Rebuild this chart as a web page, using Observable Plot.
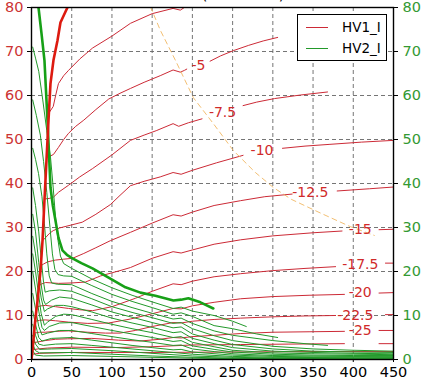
<!DOCTYPE html>
<html><head><meta charset="utf-8">
<script src="https://cdn.jsdelivr.net/npm/d3@7"></script>
<script src="https://cdn.jsdelivr.net/npm/@observablehq/plot@0.6"></script>
<style>
body{margin:0;background:#fff;}
#wrap{position:relative;width:428px;height:382px;overflow:hidden;font-family:"DejaVu Sans",sans-serif;background:#fff;}
#wrap svg{position:absolute;left:0;top:0;}
#legend{position:absolute;left:297px;top:14px;width:88px;height:45px;border:1px solid #000;background:#fff;font-size:13.5px;}
#legend .s{position:absolute;left:8px;width:22px;height:0;border-top:1px solid;}
#legend .t{position:absolute;left:44px;line-height:14px;}
</style></head><body><div id="wrap"></div>
<script>
// ---- data ----
const xTicks = [0,50,100,150,200,250,300,350,400,450];
const yTicks = [0,10,20,30,40,50,60,70,80];
const seriesNames = ["HV1_I","HV2_I"];
const titleText = "Current (arb. units)";

// HV1_I thick red line
const redThick = [[0,0],[1.2,2],[5,9.5],[7.5,13.4],[11.2,20.2],[13.7,27],[16.1,36.1],[18.6,45.2],[21.1,54.3],[23.6,62.7],[27.3,68],[32.3,72.5],[36,76.6],[44.7,80]];
// HV1_I contour lines (null = gap for label)
const r0 = [[21.5,56],[27,57.5],[30,60],[33.5,62.7],[40,64.5],[46,65.7],[60,68.3],[76,70.8],[100,73.5],[123,76.4],[150,78.6],[176,79.8],[185,79.4],[190,80],[210,81.2]];
const r1 = [[19,46],[23,46.2],[27.3,46.6],[33.5,48.2],[40,50],[46,51.4],[55,53],[65,54.4],[80,56.8],[96,59.2],[110,60.5],[123,61.6],[140,63],[160,64.5],[176,65.8],[185,65.3],[190,65.7],[193,66],null,[222,67.8],[235,69],[251,70.2],[270,71.4],[288,72.4],[306,73.2]];
const r2 = [[16.5,36.5],[22,36.6],[27.3,36.9],[33.5,38],[46,39.6],[60,41.5],[76,43.4],[100,46.5],[123,49.8],[140,51],[155,52],[176,53.6],[183,53],[195,53.8],[212,54.7],null,[263,57.7],[280,58.5],[302,59.3],[334,60.1],[368,60.8]];
const r3 = [[13.7,27],[17,27.6],[22,28.6],[27,29.3],[35,29.9],[48,30.5],[63,31.2],[80,33],[98,35.2],[110,37.3],[123,39.5],[140,40.5],[160,41.5],[176,42.5],[186,42.1],[200,43],[230,44.7],[263,46.4],null,[312,48],[340,48.5],[371,48.9],[410,49.4],[450,49.8]];
const r4 = [[11.7,21.3],[15,21.7],[20,22.2],[30,22.6],[40,22.8],[51,23],[65,24.1],[80,25.4],[98,27],[123,28.9],[150,31],[176,32.9],[186,32.6],[200,33.5],[227,35],[260,36.1],[290,37],[324,37.6],null,[380,38.3],[420,38.8],[450,39.2]];
const r5 = [[9.5,16.8],[13,17.2],[17.4,17.5],[33.5,17.3],[50,17.4],[67,17.6],[86,19],[110,20.2],[123,20.9],[150,23],[176,24.5],[186,24.2],[200,24.9],[227,26.2],[260,27.2],[300,28.1],[350,28.8],[386,29.2],null,[432,29.5],[450,29.6]];
const r6 = [[7,12],[12,12.2],[17.4,12.3],[30,12],[46,11.6],[60,11.3],[76,11.1],[100,12],[129,13.9],[150,15.5],[176,17.2],[186,17],[200,17.8],[227,18.8],[260,19.5],[300,20.2],[340,20.7],[378,21.1],null,[440,21.9],[450,21.9]];
const r7 = [[4.8,8.7],[10,8.9],[17,9],[30,8.8],[46,8.5],[70,8.2],[96,8.3],[123,9.2],[150,10.4],[176,11.6],[186,11.5],[200,12.2],[227,13],[260,13.8],[300,14.3],[345,14.6],[389,14.8],null,[432,15.1],[450,15.2]];
const r8 = [[3.3,6],[10,6.2],[17,6.2],[30,6.4],[46,6.5],[70,6.2],[92,6],[110,6],[129,6.6],[150,7.5],[176,8.4],[186,8.3],[200,8.7],[227,9.1],[260,9.4],[300,9.7],[340,9.9],[378,10],null,[440,10.2],[450,10.2]];
const r9 = [[2.2,3.8],[8,4],[17,4.3],[30,4.6],[45,4.7],[75,4.8],[108,4.4],[135,4.2],[160,4.6],[176,5],[186,4.9],[200,5.2],[227,5.5],[260,5.9],[300,6.2],[345,6.3],[389,6.4],null,[432,6.6],[450,6.6]];
const r10 = [[1.4,2.2],[8,2.4],[20,2.6],[50,2.8],[100,2.7],[150,2.9],[200,3.3],[260,3.4],[320,3.5],[389,3.6],null,[432,3.6],[450,3.6]];
const r11 = [[0.8,1.2],[10,1.4],[50,1.6],[150,1.6],[250,1.7],[350,1.8],[450,1.8]];
const contourLevels = ["-5","-7.5","-10","-12.5","-15","-17.5","-20","-22.5","-25"];
const contourLabelX = [207.5,237.5,286.6,346.6,408.7,408.7,408.7,402.5,408.7];
const contourLabelY = [66.8,56.2,47.5,38,29.5,21.6,15.2,10,6.6];

// HV2_I thick green line
const greenThick = [[8.7,80],[12.5,74],[16.1,68],[19.9,54.3],[23.6,39.1],[26.5,35],[29.8,31.6],[33.5,27.7],[38.5,24.8],[44,23.8],[50.9,23],[62,21.9],[75.8,20.7],[98,18.4],[116.8,16.4],[135.4,15.2],[154,14.5],[176.4,13.4],[186,13.6],[195,13.9],[210,13],[226,11.6]];
// HV2_I thin lines
const g1 = [[1.5,71],[5,68.5],[9,65.5],[14,59],[19,52],[23.6,46],[27,39],[30,32],[33,27],[36,23.5],[40,21.8],[50,20.7],[75,18.3],[100,16.3],[125,14.6],[150,13.1],[176,11.6],[186,11.9],[200,11],[227,10],[250,8.7],[267,7.5]];
const g2 = [[1.5,59],[6,55.5],[11,51],[15,45],[19,38],[23,30],[26,24],[29,20.5],[33,19.3],[40,19],[50,18.9],[75,16.8],[100,14.8],[125,13.2],[150,11.8],[176,10.3],[186,10.6],[200,9.8],[227,7.7],[250,7],[280,5.8],[306,5]];
const g3 = [[1.5,48],[5,45.5],[8.7,42.3],[13,37],[16,31],[19,24],[22,19],[25,17.4],[32,17.1],[50,17],[75,15],[100,13.2],[125,11.8],[150,10.5],[176,9.2],[186,9.4],[200,8.2],[227,6.5],[250,5.5],[300,4.3],[340,3.6],[368,3.2]];
const g4 = [[1.5,39],[5,35],[9,29],[12,23],[15,17.5],[17,15.3],[22,15.6],[35,15.8],[50,15.5],[75,13.8],[100,12],[125,10.7],[150,9.5],[176,8.2],[186,8.4],[200,7],[227,5.4],[250,4.3],[300,3],[350,2.4],[400,2.1],[450,1.9]];
const g5 = [[1.5,33],[5,29],[9,22],[12,17],[15,13.5],[17.5,12.5],[25,13.5],[35,14.2],[50,13.9],[75,12.4],[100,10.8],[125,9.6],[150,8.4],[176,7.2],[186,7.4],[200,5.8],[227,4.4],[250,3.4],[300,2.4],[350,1.9],[400,1.7],[450,1.6]];
const g6 = [[1.5,28],[5,24],[9,18],[12,14],[16,10.9],[20,11.5],[30,12.3],[40,12.3],[50,12],[75,10.8],[100,9.4],[125,8.3],[150,7.3],[176,6.1],[186,6.3],[200,4.8],[227,3.6],[250,2.7],[300,1.9],[350,1.6],[400,1.4],[450,1.3]];
const g7 = [[1.5,24],[5,20],[9,14.5],[12,10.5],[16,7.8],[20,8.5],[30,9.8],[40,10.3],[50,10.2],[75,9.1],[100,8],[125,7],[150,6.1],[176,5],[186,5.2],[200,3.9],[227,2.9],[250,2.1],[300,1.5],[350,1.3],[400,1.2],[450,1.1]];
const g8 = [[1.5,20],[5,16],[9,11],[13,7.3],[16,6.6],[22,7.5],[35,8.3],[50,8.4],[75,7.5],[100,6.6],[125,5.8],[150,5],[176,4.1],[186,4.3],[200,3.1],[227,2.3],[250,1.7],[300,1.2],[350,1],[400,0.9],[450,0.9]];
const g9 = [[1.5,15],[5,11.5],[9,7.5],[13,5.6],[20,6],[35,6.6],[50,6.6],[75,5.9],[100,5.2],[125,4.5],[150,3.9],[176,3.2],[186,3.3],[200,2.4],[227,1.8],[250,1.3],[300,0.9],[350,0.8],[400,0.7],[450,0.7]];
const g10 = [[1.5,11],[5,8],[9,5],[13,4.2],[25,4.8],[50,5],[75,4.4],[100,3.8],[125,3.2],[150,2.7],[176,2.2],[186,2.3],[200,1.7],[250,1],[300,0.7],[350,0.6],[400,0.6],[450,0.5]];
const g11 = [[1.5,8],[5,5.5],[9,3.5],[15,3.2],[30,3.5],[50,3.6],[75,3.2],[100,2.8],[125,2.4],[150,2],[176,1.6],[200,1.2],[250,0.7],[300,0.5],[350,0.45],[400,0.4],[450,0.4]];
const g12 = [[1.5,5.5],[5,3.5],[10,2.3],[25,2.4],[50,2.5],[100,2],[150,1.4],[200,0.8],[250,0.5],[300,0.35],[350,0.3],[450,0.3]];
const g13 = [[1.5,3.5],[5,2],[10,1.5],[50,1.6],[100,1.2],[150,0.8],[200,0.5],[250,0.3],[300,0.2],[450,0.2]];
const g14 = [[1.5,2],[5,1],[15,0.8],[50,0.9],[100,0.7],[150,0.5],[200,0.3],[250,0.2],[300,0.1],[450,0.1]];

// dashed boundary curve
const dashedCurve = [[147.8,80.2],[160.2,74.8],[178.9,68],[201.2,59.5],[226.1,53.6],[250.9,47.5],[278.3,42.5],[300.6,39.1],[323,36.4],[360.2,33.2],[396.3,30.2],[426.1,28.2]];

// ---- build tables ----
function rows(id, pts){ return pts.map(p => p ? {id, x:p[0], y:p[1]} : {id, x:NaN, y:NaN}); }
const redThin = [r0,r1,r2,r3,r4,r5,r6,r7,r8,r9,r10,r11].flatMap((a,i)=>rows("r"+i,a));
const greenThin = [g1,g2,g3,g4,g5,g6,g7,g8,g9,g10,g11,g12,g13,g14].flatMap((a,i)=>rows("g"+i,a));
const labels = contourLevels.map((t,i)=>({t, x:contourLabelX[i], y:contourLabelY[i]}));

const RED="#cc2a36", GREEN="#22992a", FONT="DejaVu Sans";
const chart = Plot.plot({
  width:428, height:382,
  marginLeft:31, marginRight:35, marginTop:7, marginBottom:23,
  style:{fontFamily:FONT, fontSize:"14.5px", background:"transparent"},
  x:{domain:[0,450]},
  y:{domain:[0,80]},
  marks:[
    Plot.gridX(xTicks,{stroke:"#666",strokeOpacity:0.9,strokeDasharray:"4,3"}),
    Plot.gridY(yTicks,{stroke:"#666",strokeOpacity:0.9,strokeDasharray:"4,3"}),
    Plot.line(redThin,{x:"x",y:"y",z:"id",stroke:RED,strokeWidth:1,clip:true}),
    Plot.line(greenThin,{x:"x",y:"y",z:"id",stroke:GREEN,strokeWidth:1,clip:true}),
    Plot.line(greenThick,{x:d=>d[0],y:d=>d[1],stroke:"#17a017",strokeWidth:2.6,clip:true}),
    Plot.line(redThick,{x:d=>d[0],y:d=>d[1],stroke:"#dd1a10",strokeWidth:2.6,clip:true}),
    Plot.line(dashedCurve,{x:d=>d[0],y:d=>d[1],stroke:"#f0b45a",strokeOpacity:0.85,strokeWidth:1,strokeDasharray:"5,4",clip:true}),
    Plot.text(labels,{x:"x",y:"y",text:"t",fill:"#d02a2a",fontSize:14}),
    Plot.frame({stroke:"black",strokeWidth:1.4}),
    Plot.axisX(xTicks,{tickSize:3,tickPadding:4,label:null,tickFormat:d=>d,fontSize:14.5}),
    Plot.axisY(yTicks,{anchor:"left",tickSize:4,text:null,label:null}),
    Plot.axisY(yTicks,{anchor:"left",tickSize:0,tickPadding:8,label:null,color:"#cc3333",fontSize:14.5,tickFormat:d=>d}),
    Plot.axisY(yTicks,{anchor:"right",tickSize:4,text:null,label:null}),
    Plot.axisY(yTicks,{anchor:"right",tickSize:0,tickPadding:9,label:null,color:"#339933",fontSize:14.5,tickFormat:d=>d}),
    Plot.text([titleText],{frameAnchor:"top",text:d=>d,dy:-9,lineAnchor:"bottom",fontSize:15,fill:"black"})
  ]
});
const wrap=document.getElementById("wrap");
wrap.appendChild(chart);
const lg=document.createElement("div"); lg.id="legend";
lg.innerHTML=`<div class="s" style="top:12px;border-color:${RED}"></div><div class="t" style="top:5px">${seriesNames[0]}</div>
<div class="s" style="top:33px;border-color:${GREEN}"></div><div class="t" style="top:26px">${seriesNames[1]}</div>`;
wrap.appendChild(lg);
</script></body></html>
